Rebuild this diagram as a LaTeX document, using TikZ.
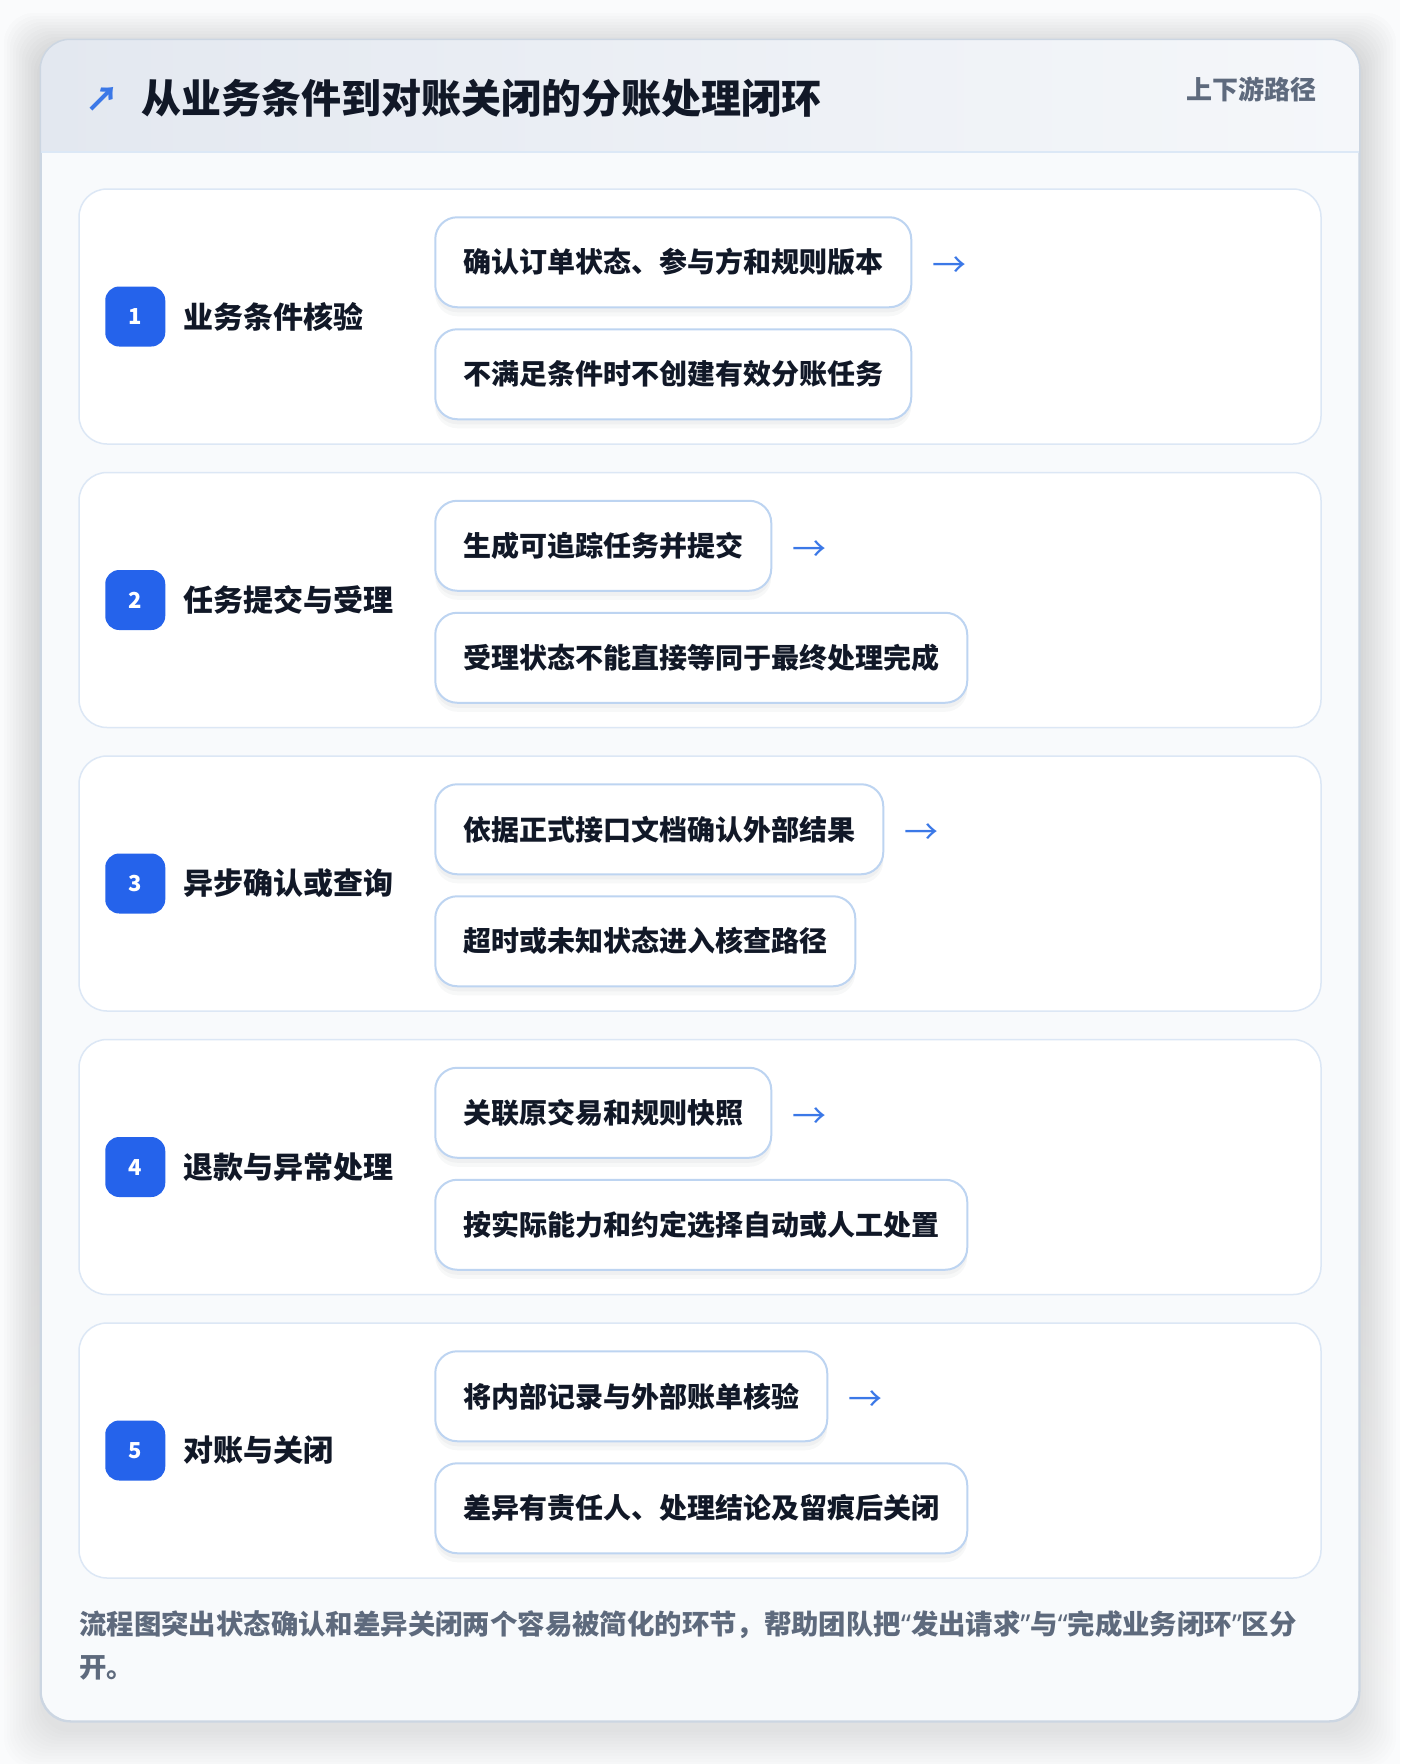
\documentclass[tikz,border=0pt]{standalone}
\usepackage{fontspec}
\setmainfont{Noto Sans CJK SC}
\newfontfamily\quotefont{Noto Sans}
\usetikzlibrary{positioning}

\definecolor{pagebg}{HTML}{FAFBFC}
\definecolor{cardline}{HTML}{CCD6E2}
\definecolor{bodybg}{HTML}{F8FAFC}
\definecolor{headleft}{HTML}{E3E8F0}
\definecolor{headright}{HTML}{F5F7FA}
\definecolor{headline}{HTML}{DCE8F6}
\definecolor{panelline}{HTML}{DCE7F5}
\definecolor{boxline}{HTML}{BDD4F1}
\definecolor{badgeblue}{HTML}{2563EB}
\definecolor{arrowblue}{HTML}{3B78E7}
\definecolor{ink}{HTML}{111827}
\definecolor{muted}{HTML}{5E6A7D}
\definecolor{shade}{HTML}{1E293B}

\newcommand{\narrowq}[1]{{\quotefont\bfseries #1}}

\begin{document}
\begin{tikzpicture}[x=1pt,y=-1pt,node distance=20pt,font=\bfseries]
   \tikzstyle{card}=[draw=cardline,line width=1.5pt,fill=bodybg,rounded corners=30pt,minimum width=1318pt,minimum height=1681pt,inner sep=0pt]
   \tikzstyle{panel}=[draw=panelline,line width=1.5pt,fill=white,rounded corners=28pt,minimum width=1242pt,minimum height=255pt,inner sep=0pt]
   \tikzstyle{badge}=[fill=badgeblue,rounded corners=14pt,minimum size=60pt,inner sep=0pt,text=white,font=\fontsize{22}{26}\selectfont\bfseries]
   \tikzstyle{steplabel}=[text=ink,inner sep=0pt,font=\fontsize{30}{36}\selectfont\bfseries]
   \tikzstyle{itembox}=[draw=boxline,line width=2pt,fill=white,rounded corners=22pt,minimum height=90pt,inner xsep=28pt,inner ysep=0pt,
     text=ink,font=\fontsize{28}{34}\selectfont\bfseries,
     preaction={fill=shade,opacity=0.03,draw=none,transform canvas={yshift=-9pt}},
     preaction={fill=shade,opacity=0.035,draw=none,transform canvas={yshift=-5pt}}]
   \tikzstyle{flowarrow}=[text=arrowblue,inner sep=0pt,yshift=-5pt,font=\fontsize{34}{40}\selectfont]

   \fill[pagebg] (0,0) rectangle (1400,1764);
   \useasboundingbox (0,0) rectangle (1400,1764);

   % soft shadow round the card
   \foreach \s in {1,4,...,37}
     \fill[shade,opacity=0.006,rounded corners=30pt] (41-\s,50-\s) rectangle (1359+\s,1731+\s);

   % card and header
   \node[card] (card) at (700,880.5) {};
   \begin{scope}
     \clip[rounded corners=30pt] (card.north west) rectangle (card.south east);
     \shade[left color=headleft,right color=headright] (41,40) rectangle (1359,152);
   \end{scope}
   \draw[headline,line width=2pt] (41,152) -- (1359,152);
   \draw[cardline,line width=1.5pt,rounded corners=30pt] (card.north west) rectangle (card.south east);

   \node[text=arrowblue,inner sep=0pt,font=\fontsize{34}{40}\selectfont\bfseries] (icon) at (102,99) {↗};
   \node[anchor=west,text=ink,inner sep=0pt,font=\fontsize{40}{48}\selectfont\bfseries] (title) at (141,98) {从业务条件到对账关闭的分账处理闭环};
   \node[anchor=east,text=muted,inner sep=0pt,font=\fontsize{26}{32}\selectfont\bfseries] (side) at (1317,89) {上下游路径};

   % rows
   \node[panel]   (p1)  at (700,316.5)  {};
   \node[panel]   (p2)  [below=27pt of p1]  {};
   \node[panel]   (p3)  [below=27pt of p2]  {};
   \node[panel]   (p4)  [below=27pt of p3]  {};
   \node[panel]   (p5)  [below=27pt of p4]  {};

   \node[badge]   (n1)  at ([xshift=57pt]p1.west)  {1};
   \node[badge]   (n2)  at ([xshift=57pt]p2.west)  {2};
   \node[badge]   (n3)  at ([xshift=57pt]p3.west)  {3};
   \node[badge]   (n4)  at ([xshift=57pt]p4.west)  {4};
   \node[badge]   (n5)  at ([xshift=57pt]p5.west)  {5};

   \node[steplabel,right=18pt of n1]  (t1)  {业务条件核验};
   \node[steplabel,right=18pt of n2]  (t2)  {任务提交与受理};
   \node[steplabel,right=18pt of n3]  (t3)  {异步确认或查询};
   \node[steplabel,right=18pt of n4]  (t4)  {退款与异常处理};
   \node[steplabel,right=18pt of n5]  (t5)  {对账与关闭};

   \node[itembox,anchor=north west]  (b11)  at ([xshift=356pt,yshift=-28pt]p1.north west)  {确认订单状态、参与方和规则版本};
   \node[itembox,below right=20pt and 0pt of b11.south west]  (b12)  {不满足条件时不创建有效分账任务};
   \node[itembox,anchor=north west]  (b21)  at ([xshift=356pt,yshift=-28pt]p2.north west)  {生成可追踪任务并提交};
   \node[itembox,below right=20pt and 0pt of b21.south west]  (b22)  {受理状态不能直接等同于最终处理完成};
   \node[itembox,anchor=north west]  (b31)  at ([xshift=356pt,yshift=-28pt]p3.north west)  {依据正式接口文档确认外部结果};
   \node[itembox,below right=20pt and 0pt of b31.south west]  (b32)  {超时或未知状态进入核查路径};
   \node[itembox,anchor=north west]  (b41)  at ([xshift=356pt,yshift=-28pt]p4.north west)  {关联原交易和规则快照};
   \node[itembox,below right=20pt and 0pt of b41.south west]  (b42)  {按实际能力和约定选择自动或人工处置};
   \node[itembox,anchor=north west]  (b51)  at ([xshift=356pt,yshift=-28pt]p5.north west)  {将内部记录与外部账单核验};
   \node[itembox,below right=20pt and 0pt of b51.south west]  (b52)  {差异有责任人、处理结论及留痕后关闭};

   \node[flowarrow,right=20pt of b11]  (a1)  {→};
   \node[flowarrow,right=20pt of b21]  (a2)  {→};
   \node[flowarrow,right=20pt of b31]  (a3)  {→};
   \node[flowarrow,right=20pt of b41]  (a4)  {→};
   \node[flowarrow,right=20pt of b51]  (a5)  {→};

   % note
   \node[anchor=north west,align=left,text=muted,inner sep=0pt,font=\fontsize{27.4}{43}\selectfont\bfseries] (note) at (79,1610)
     {流程图突出状态确认和差异关闭两个容易被简化的环节，帮助团队把\narrowq{“}发出请求\narrowq{”}与\narrowq{“}完成业务闭环\narrowq{”}区分\\开。};
\end{tikzpicture}
\end{document}
